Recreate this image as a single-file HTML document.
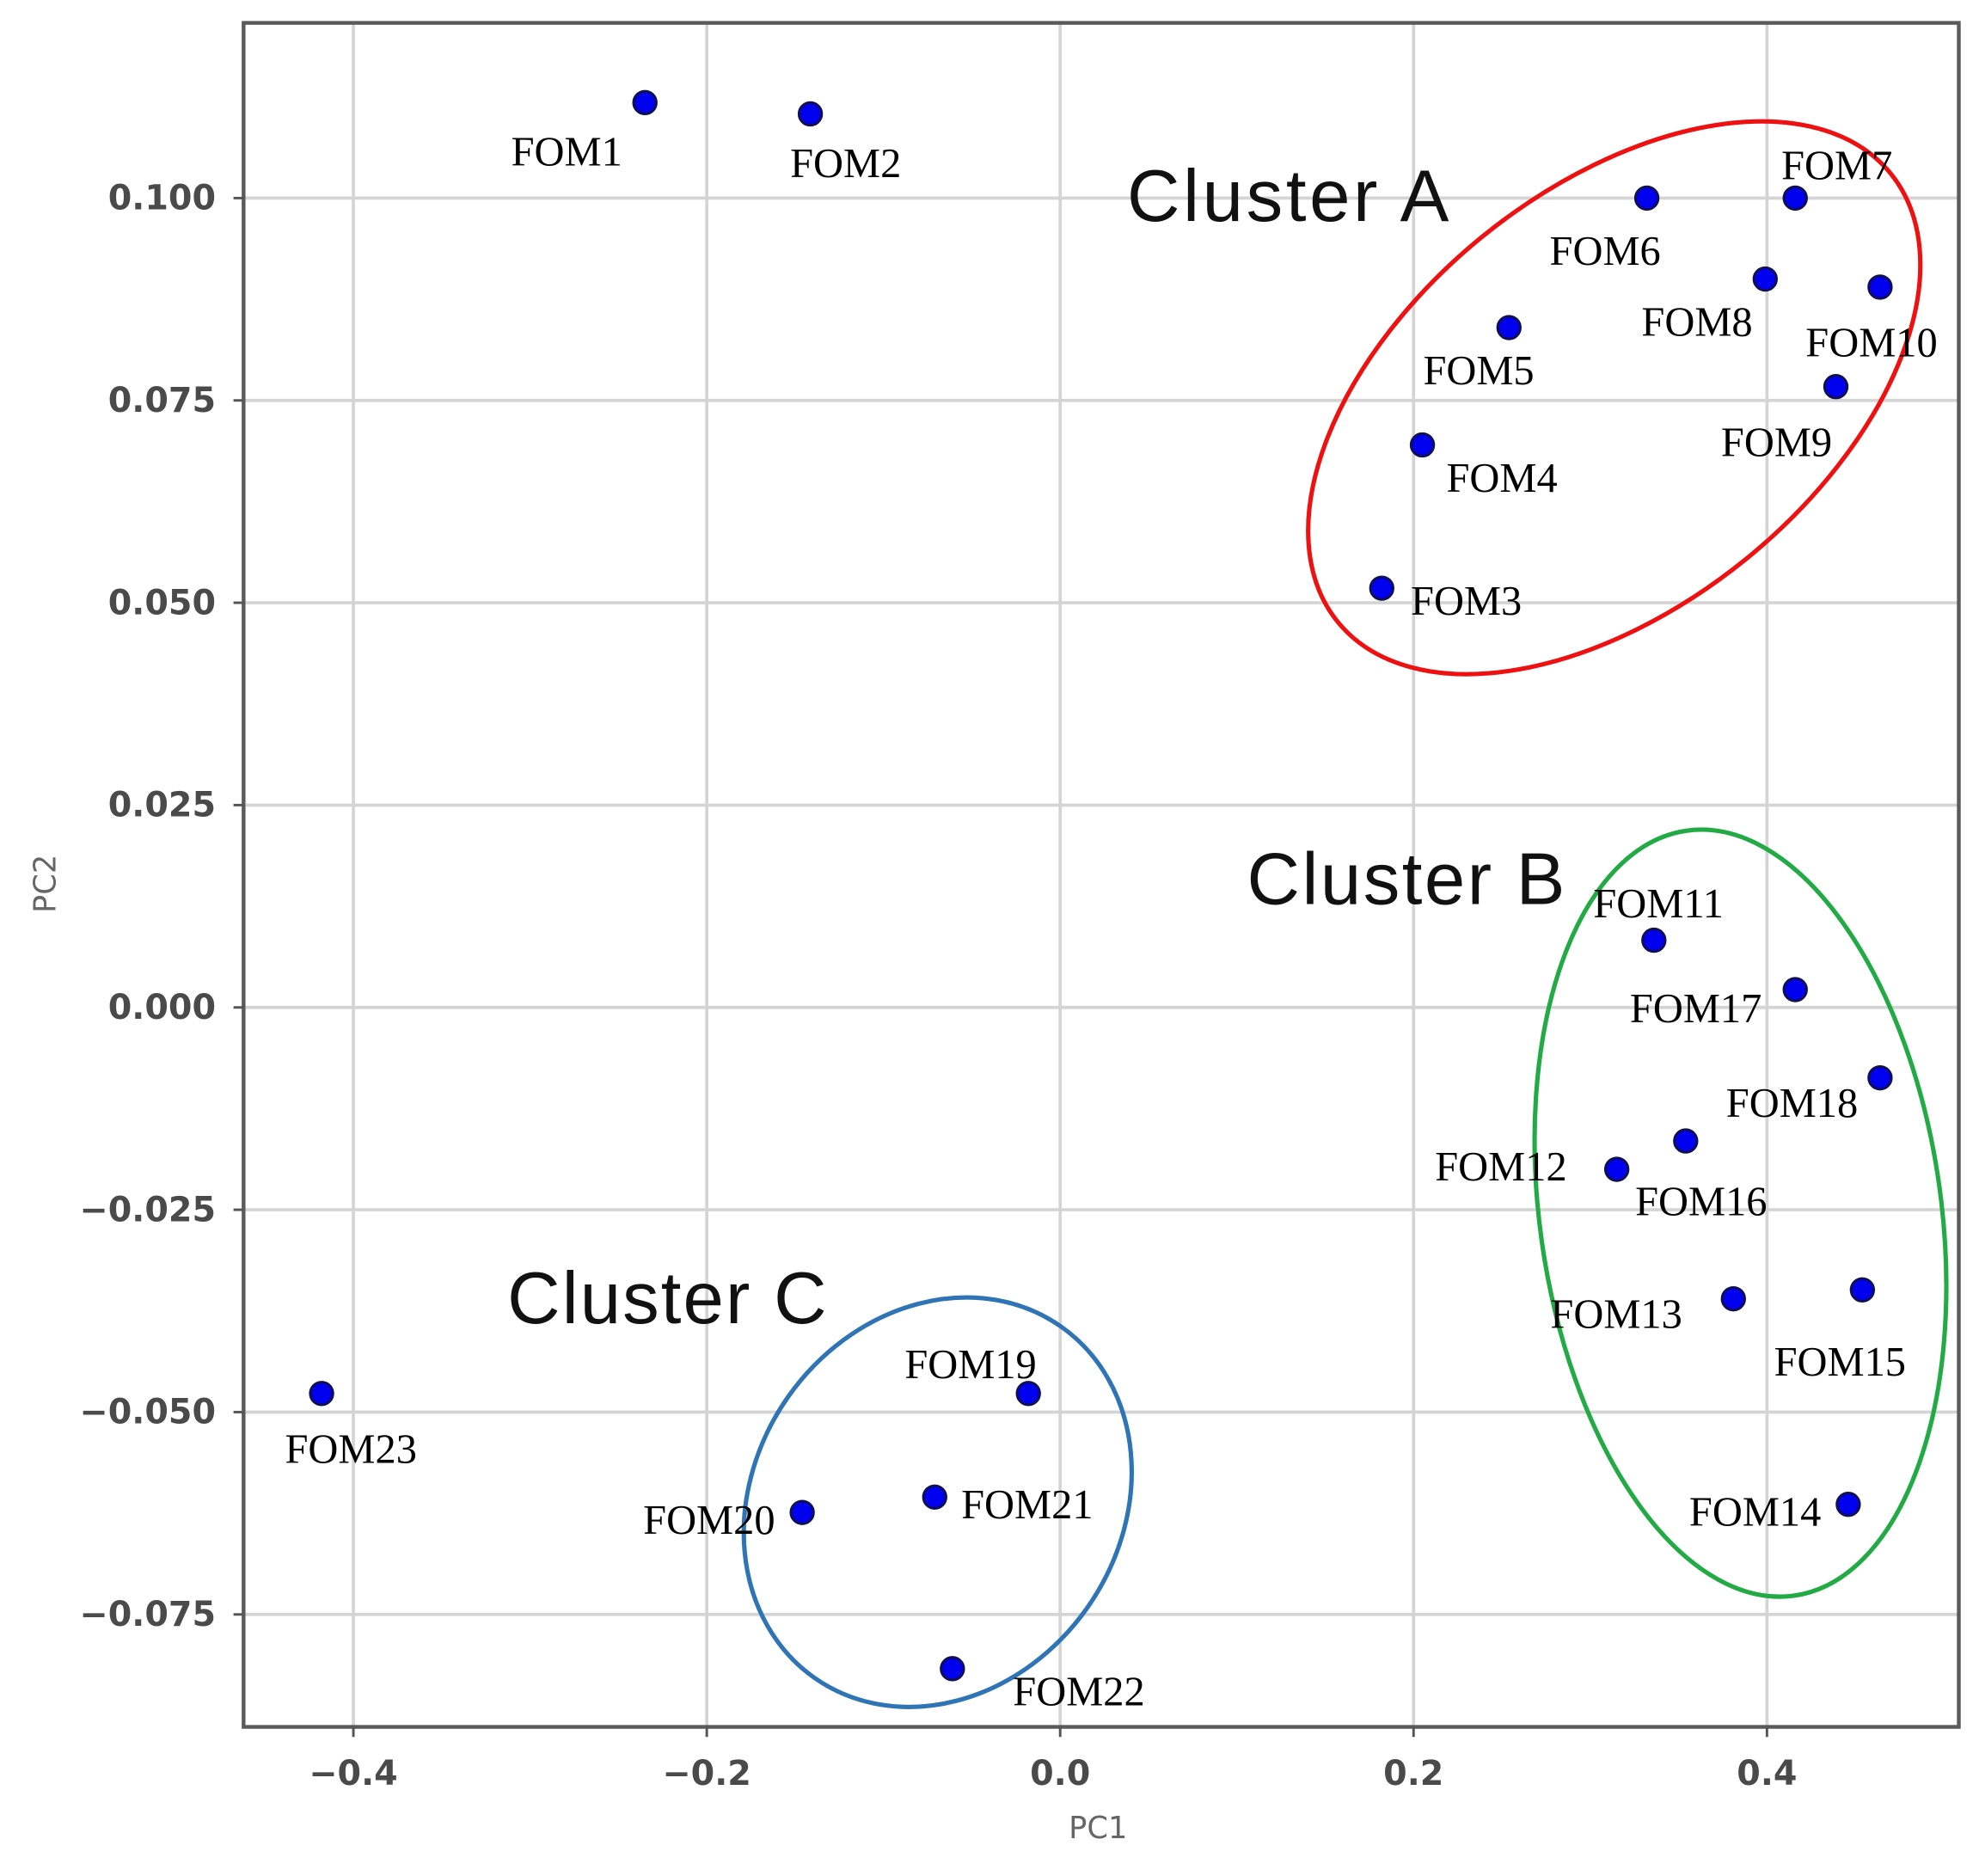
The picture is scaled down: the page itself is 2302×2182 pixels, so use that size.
<!DOCTYPE html>
<html><head><meta charset="utf-8"><style>html,body{margin:0;padding:0;background:#fff}svg{display:block}</style></head>
<body>
<svg id="chart" width="2302" height="2182" viewBox="0 0 1568 1486" xmlns="http://www.w3.org/2000/svg">
<g id="grid"></g>
<g id="ellipses">
  <ellipse cx="1279" cy="315" rx="282" ry="165" transform="rotate(-39 1279 315)" fill="none" stroke="#ee1111" stroke-width="3.5"/>
  <ellipse cx="1379" cy="961" rx="159" ry="306" transform="rotate(-8 1379 961)" fill="none" stroke="#22aa44" stroke-width="3.5"/>
  <ellipse cx="743" cy="1190" rx="145" ry="170" transform="rotate(35 743 1190)" fill="none" stroke="#2f74b5" stroke-width="3.5"/>
</g>
<g id="points"></g>
<g id="labels"></g>
<text x="893" y="175" font-family="Liberation Sans, sans-serif" font-size="58" textLength="255" fill="#111">Cluster A</text>
<text x="988" y="716" font-family="Liberation Sans, sans-serif" font-size="58" textLength="252" fill="#111">Cluster B</text>
<text x="402" y="1048" font-family="Liberation Sans, sans-serif" font-size="58" textLength="253" fill="#111">Cluster C</text>
<rect x="193" y="18" width="1359" height="1350" fill="none" stroke="#5a5a5a" stroke-width="3"/>
<g id="axes"></g>
<text x="870" y="1456" text-anchor="middle" font-family="DejaVu Sans, sans-serif" font-size="24" fill="#666">PC1</text>
<text x="44" y="700" text-anchor="middle" transform="rotate(-90 44 700)" font-family="DejaVu Sans, sans-serif" font-size="24" fill="#666">PC2</text>
</svg>
<script>
const names = ["FOM1","FOM2","FOM3","FOM4","FOM5","FOM6","FOM7","FOM8","FOM9","FOM10","FOM11","FOM12","FOM13","FOM14","FOM15","FOM16","FOM17","FOM18","FOM19","FOM20","FOM21","FOM22","FOM23"];
const pc1 = [-0.235,-0.1414,0.182,0.205,0.254,0.332,0.416,0.399,0.439,0.464,0.336,0.315,0.381,0.446,0.454,0.354,0.416,0.464,-0.018,-0.146,-0.071,-0.061,-0.418];
const pc2 = [0.1118,0.1104,0.0518,0.0695,0.084,0.100,0.100,0.090,0.0767,0.089,0.0083,-0.020,-0.036,-0.0614,-0.0349,-0.0165,0.0022,-0.0087,-0.0477,-0.0624,-0.0605,-0.0817,-0.0477];
const xTicks = [-0.4,-0.2,0.0,0.2,0.4];
const xTickLabels = ["\u22120.4","\u22120.2","0.0","0.2","0.4"];
const yTicks = [0.100,0.075,0.050,0.025,0.000,-0.025,-0.050,-0.075];
const yTickLabels = ["0.100","0.075","0.050","0.025","0.000","\u22120.025","\u22120.050","\u22120.075"];
const labelDx = [-106,-16,23,19,-68,-77,-11,-98,-91,-59,-48,-144,-145,-126,-70,-40,-131,-122,-98,-126,21,48,-29];
const labelDy = [50,50,21,37,45,53,-15,45,55,55,-18,9,23,17,68,59,26,31,-12,17,17,29,55];

const NS = "http://www.w3.org/2000/svg";
const L=193,R=1552,T=18,B=1368;
function sx(v){return 840 + v*1400;}
function sy(v){return 798 - v*6412;}
function mk(tag, attrs, parent){const e=document.createElementNS(NS,tag);for(const k in attrs)e.setAttribute(k,attrs[k]);parent.appendChild(e);return e;}
const grid=document.getElementById('grid'), axes=document.getElementById('axes');
xTicks.forEach((t,i)=>{
  const x=sx(t);
  const g=mk('line',{x1:x,x2:x,y1:T,y2:B,stroke:'#d4d4d4','stroke-width':2.5},grid);
  
  
  const tk=mk('line',{x1:x,x2:x,y1:B,y2:B+8,stroke:'#555','stroke-width':2},axes);
  
  
  const tx=mk('text',{x:x,y:1414,'text-anchor':'middle','font-family':'DejaVu Sans, sans-serif','font-size':27,'font-weight':'bold',fill:'#4a4a4a'},axes);
  tx.textContent=xTickLabels[i];
  
  
});
yTicks.forEach((t,i)=>{
  const y=sy(t);
  const g=mk('line',{x1:L,x2:R,y1:y,y2:y,stroke:'#d4d4d4','stroke-width':2.5},grid);
  
  
  const tk=mk('line',{x1:L-8,x2:L,y1:y,y2:y,stroke:'#555','stroke-width':2},axes);
  
  
  const tx=mk('text',{x:171,y:y+9,'text-anchor':'end','font-family':'DejaVu Sans, sans-serif','font-size':27,'font-weight':'bold',fill:'#4a4a4a'},axes);
  tx.textContent=yTickLabels[i];
  
  
});
const pts=document.getElementById('points'), lbs=document.getElementById('labels');
names.forEach((n,i)=>{
  const x=sx(pc1[i]), y=sy(pc2[i]);
  const c=mk('circle',{cx:x,cy:y,r:9,fill:'#0000ee',stroke:'#101050','stroke-width':2},pts);
  
  
  const t=mk('text',{x:x+labelDx[i],y:y+labelDy[i],'font-family':'Liberation Serif, serif','font-size':33,fill:'#000'},lbs);
  t.textContent=n;
  
  
});
</script>
</body></html>
